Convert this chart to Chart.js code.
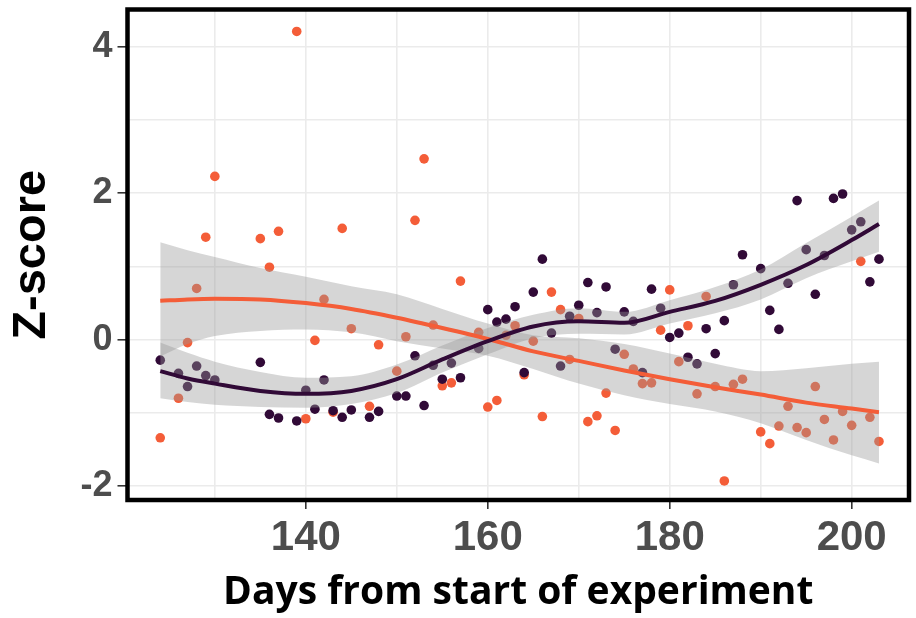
<!DOCTYPE html>
<html>
<head>
<meta charset="utf-8">
<script src="https://cdn.jsdelivr.net/npm/chart.js@4.4.1/dist/chart.umd.min.js"></script>
<style>
  html, body { margin: 0; padding: 0; background: #fff; }
  canvas { display: block; }
</style>
</head>
<body>
<canvas id="chart" width="916" height="618"></canvas>
<script>
// points: day, z-score
const purpleDays = [124,126,127,128,129,130,135,136,137,139,140,141,142,143,144,145,147,148,150,151,152,153,154,155,156,157,159,160,161,162,163,164,165,166,167,168,169,170,171,172,173,174,175,176,177,178,179,180,181,182,183,184,185,186,187,188,190,191,192,193,194,195,196,197,198,199,200,201,202,203];
const purpleZ = [-0.28,-0.46,-0.64,-0.36,-0.49,-0.55,-0.31,-1.02,-1.07,-1.11,-0.69,-0.95,-0.55,-0.97,-1.06,-0.96,-1.06,-0.98,-0.77,-0.77,-0.22,-0.90,-0.35,-0.54,-0.32,-0.52,-0.12,0.41,0.24,0.28,0.45,-0.45,0.65,1.10,0.09,-0.36,0.32,0.47,0.78,0.37,0.72,-0.13,0.38,0.25,-0.45,0.69,0.43,0.03,0.09,-0.24,-0.33,0.15,-0.19,0.26,0.75,1.16,0.97,0.40,0.14,0.77,1.90,1.23,0.62,1.15,1.93,1.99,1.50,1.61,0.79,1.10];

const orangeDays = [124,126,127,128,129,130,135,136,137,139,140,141,142,143,144,145,147,148,150,151,152,153,154,155,156,157,159,160,161,162,163,164,165,166,167,168,169,170,171,172,173,174,175,176,177,178,179,180,181,182,183,184,185,186,187,188,190,191,192,193,194,195,196,197,198,199,200,201,202,203];
const orangeZ = [-1.34,-0.80,-0.04,0.70,1.40,2.23,1.38,0.99,1.48,4.21,-1.08,-0.01,0.55,-0.99,1.52,0.15,-0.91,-0.07,-0.43,0.04,1.63,2.47,0.20,-0.63,-0.59,0.80,0.10,-0.92,-0.83,0.06,0.19,-0.48,-0.02,-1.05,0.65,0.41,-0.27,0.29,-1.12,-1.04,-0.73,-1.24,-0.20,-0.40,-0.60,-0.59,0.13,0.68,-0.30,0.19,-0.74,0.59,-0.64,-1.93,-0.61,-0.54,-1.26,-1.42,-1.18,-0.91,-1.20,-1.27,-0.64,-1.09,-1.37,-0.98,-1.17,1.07,-1.06,-1.39];

// smoothed fits and their bands
const fitDays = [124,127,130,135,140,145,150,155,160,165,170,175,180,185,190,195,200,203];
const purpleFit = [-0.43,-0.53,-0.60,-0.70,-0.74,-0.70,-0.54,-0.27,-0.02,0.18,0.25,0.23,0.38,0.53,0.75,1.02,1.36,1.58];
const purpleLo = [-0.80,-0.85,-0.89,-0.92,-0.93,-0.88,-0.73,-0.45,-0.20,0.02,0.08,0.07,0.22,0.36,0.55,0.84,1.07,1.20];
const purpleHi = [-0.04,-0.18,-0.30,-0.44,-0.52,-0.50,-0.34,-0.08,0.16,0.34,0.43,0.38,0.54,0.72,0.96,1.32,1.68,1.90];
const orangeFit = [0.53,0.55,0.56,0.55,0.50,0.42,0.30,0.16,0.01,-0.16,-0.29,-0.42,-0.54,-0.65,-0.75,-0.86,-0.94,-0.99];
const orangeLo = [-0.23,-0.06,0.05,0.12,0.14,0.10,-0.02,-0.12,-0.22,-0.40,-0.60,-0.76,-0.88,-0.98,-1.14,-1.37,-1.58,-1.69];
const orangeHi = [1.33,1.22,1.13,0.98,0.86,0.73,0.62,0.42,0.22,0.06,0.02,-0.06,-0.19,-0.33,-0.43,-0.39,-0.33,-0.30];

const xGrid = [130,140,150,160,170,180,190,200];
const xLabels = [140,160,180,200];
const yGrid = [-2,-1,0,1,2,3,4];
const yLabels = [-2,0,2,4];

const PURPLE = '#310A37';
const ORANGE = '#F45D38';
const BAND = 'rgba(153,153,153,0.4)';

const pts = (xs, ys) => xs.map((x, i) => ({ x: x, y: ys[i] }));

const scatter = (xs, ys, col) => ({
	type: 'scatter',
	data: pts(xs, ys),
	backgroundColor: col,
	borderWidth: 0,
	pointRadius: 4.8,
	order: 3
});

const band = (lo, fillTo) => ({
	type: 'line',
	data: pts(fitDays, lo),
	borderWidth: 0,
	borderColor: 'rgba(0,0,0,0)',
	pointRadius: 0,
	cubicInterpolationMode: 'monotone',
	fill: fillTo,
	backgroundColor: BAND,
	order: 2
});

const fitLine = (ys, col) => ({
	type: 'line',
	data: pts(fitDays, ys),
	borderColor: col,
	borderWidth: 4,
	pointRadius: 0,
	cubicInterpolationMode: 'monotone',
	fill: false,
	order: 1
});

const datasets = [
	scatter(purpleDays, purpleZ, PURPLE),   // 0
	scatter(orangeDays, orangeZ, ORANGE),   // 1
	band(purpleHi, false),                  // 2
	band(purpleLo, 2),                      // 3
	band(orangeHi, false),                  // 4
	band(orangeLo, 4),                      // 5
	fitLine(purpleFit, PURPLE),
	fitLine(orangeFit, ORANGE)
];

// black frame round the panel
const panelBorder = {
	id: 'panelBorder',
	afterDraw(chart) {
		const a = chart.chartArea;
		const c = chart.ctx;
		c.save();
		c.strokeStyle = '#000';
		c.lineWidth = 4.5;
		c.strokeRect(a.left, a.top, a.right - a.left, a.bottom - a.top);
		c.restore();
	}
};

const tickFont = size => ({ family: "'Liberation Sans', Arial, sans-serif", weight: 'bold', size: size });

new Chart(document.getElementById('chart').getContext('2d'), {
	type: 'scatter',
	data: { datasets: datasets },
	options: {
		responsive: false,
		animation: false,
		layout: { padding: { top: 9.5, right: 7, left: 0, bottom: 0 } },
		plugins: {
			legend: { display: false },
			tooltip: { enabled: false }
		},
		scales: {
			x: {
				type: 'linear',
				min: 120.4,
				max: 206.3,
				afterBuildTicks: axis => { axis.ticks = xGrid.map(v => ({ value: v })); },
				afterFit: s => { s.height = 118; s.paddingLeft = 0; s.paddingRight = 0; },
				border: { display: false },
				grid: {
					color: '#EBEBEB',
					lineWidth: 1.6,
					tickLength: 9,
					tickWidth: 1.6,
					tickColor: c => (c.tick && xLabels.includes(c.tick.value)) ? '#333333' : 'rgba(0,0,0,0)'
				},
				ticks: {
					autoSkip: false,
					maxRotation: 0,
					padding: 4,
					color: '#4D4D4D',
					font: tickFont(42),
					callback: v => xLabels.includes(v) ? String(v) : ''
				},
				title: {
					display: true,
					text: 'Days from start of experiment',
					color: '#000',
					font: { family: "'Open Sans', sans-serif", weight: 'bold', size: 39 },
					padding: { top: 0, bottom: 2 }
				}
			},
			y: {
				type: 'linear',
				min: -2.19,
				max: 4.51,
				afterBuildTicks: axis => { axis.ticks = yGrid.map(v => ({ value: v })); },
				afterFit: s => { s.width = 127.5; s.paddingTop = 0; s.paddingBottom = 0; },
				border: { display: false },
				grid: {
					color: '#EBEBEB',
					lineWidth: 1.6,
					tickLength: 10,
					tickWidth: 1.6,
					tickColor: c => (c.tick && yLabels.includes(c.tick.value)) ? '#333333' : 'rgba(0,0,0,0)'
				},
				ticks: {
					autoSkip: false,
					padding: 5,
					color: '#4D4D4D',
					font: tickFont(36),
					callback: v => yLabels.includes(v) ? String(v) : ''
				},
				title: {
					display: true,
					text: 'Z-score',
					color: '#000',
					font: { family: "'Liberation Sans', Arial, sans-serif", weight: 'bold', size: 47 },
					padding: { top: 4, bottom: 0 }
				}
			}
		}
	},
	plugins: [panelBorder]
});
</script>
</body>
</html>
